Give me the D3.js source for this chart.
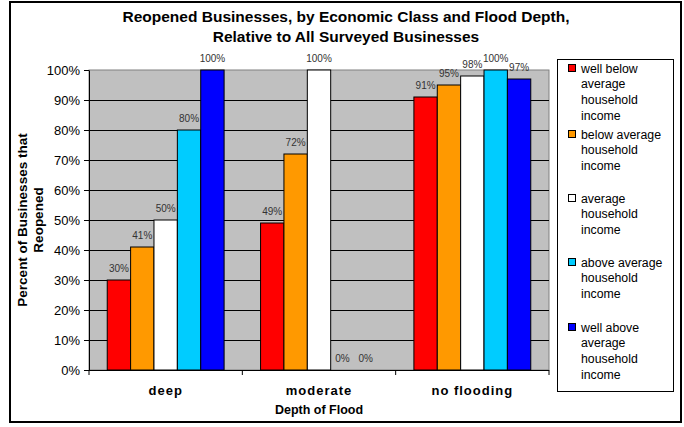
<!DOCTYPE html>
<html>
<head>
<meta charset="utf-8">
<script src="https://cdn.jsdelivr.net/npm/d3@7"></script>
<style>
  body { margin: 0; background: #fff; }
  text { font-family: "Liberation Sans", Arial, sans-serif; }
</style>
</head>
<body>
<svg id="chart"></svg>
<script>
// data
var depths = ["deep", "moderate", "no flooding"];
var classes = ["well below average household income", "below average household income",
               "average household income", "above average household income",
               "well above average household income"];
var legendLines = [["well below", "average", "household", "income"],
                   ["below average", "household", "income"],
                   ["average", "household", "income"],
                   ["above average", "household", "income"],
                   ["well above", "average", "household", "income"]];
var colors = ["#ff0000", "#ff9900", "#ffffff", "#00ccff", "#0000ff"];
var wellBelow  = [0.30, 0.49, 0.91];
var below      = [0.41, 0.72, 0.95];
var average    = [0.50, 1.00, 0.98];
var above      = [0.80, 0.00, 1.00];
var wellAbove  = [1.00, 0.00, 0.97];
var yTicks = [0, 0.1, 0.2, 0.3, 0.4, 0.5, 0.6, 0.7, 0.8, 0.9, 1.0];

var series = [wellBelow, below, average, above, wellAbove];

function setGraph(){
    var w = 684, h = 427;
    var svg = d3.select("#chart").attr("width", w).attr("height", h);

    // outer frame
    svg.append("rect")
        .attr("x", 10).attr("y", 2).attr("width", 671).attr("height", 420)
        .attr("fill", "#fff").attr("stroke", "#000").attr("stroke-width", 2);

    var left = 89, right = 549, top = 70, bottom = 370;

    var x0 = d3.scaleBand().domain(depths).range([left, right]);
    var x1 = d3.scaleBand().domain(d3.range(classes.length))
        .range([0, x0.bandwidth()]).paddingOuter(0.78).paddingInner(0);
    var y = d3.scaleLinear().domain([0, 1]).range([bottom, top]);

    // plot area
    svg.append("rect")
        .attr("x", left).attr("y", top).attr("width", right - left).attr("height", bottom - top)
        .attr("fill", "#c0c0c0").attr("stroke", "#808080").attr("stroke-width", 1);

    svg.append("g").selectAll("line")
        .data(yTicks.slice(1, -1))
        .join("line")
        .attr("x1", left).attr("x2", right)
        .attr("y1", function(d){ return Math.round(y(d)) + 0.5; })
        .attr("y2", function(d){ return Math.round(y(d)) + 0.5; })
        .attr("stroke", "#000").attr("stroke-width", 1);

    // bars
    var groups = svg.append("g").selectAll("g")
        .data(depths)
        .join("g")
        .attr("transform", function(d){ return "translate(" + x0(d) + ",0)"; });

    groups.selectAll("rect")
        .data(function(d, i){ return series.map(function(s, k){ return {k: k, v: s[i]}; }); })
        .join("rect")
        .filter(function(d){ return d.v > 0; })
        .attr("x", function(d){ return x1(d.k); })
        .attr("y", function(d){ return y(d.v); })
        .attr("width", x1.bandwidth())
        .attr("height", function(d){ return bottom - y(d.v); })
        .attr("fill", function(d){ return colors[d.k]; })
        .attr("stroke", "#000").attr("stroke-width", 1);

    groups.selectAll("text.lab")
        .data(function(d, i){ return series.map(function(s, k){ return {k: k, v: s[i]}; }); })
        .join("text")
        .attr("class", "lab")
        .attr("x", function(d){ return x1(d.k) + x1.bandwidth() / 2; })
        .attr("y", function(d){ return y(d.v) - 8; })
        .attr("text-anchor", "middle")
        .attr("font-size", 10)
        .attr("fill", "#333")
        .text(function(d){ return d3.format(".0%")(d.v); });

    // axes
    var axisY = d3.axisLeft(y).tickValues(yTicks).tickFormat(d3.format(".0%"))
        .tickSize(5).tickSizeOuter(0).tickPadding(4);
    var gy = svg.append("g").attr("transform", "translate(" + left + ",0)").call(axisY);
    gy.selectAll("text").attr("font-size", 13).attr("fill", "#000");
    gy.selectAll("line, path").attr("stroke", "#000");

    var gx = svg.append("g");
    gx.append("line")
        .attr("x1", left).attr("x2", right).attr("y1", bottom + 0.5).attr("y2", bottom + 0.5)
        .attr("stroke", "#000");
    gx.selectAll("line.tk")
        .data(depths.map(function(d){ return x0(d); }).concat([right]))
        .join("line")
        .attr("class", "tk")
        .attr("x1", function(d){ return d; }).attr("x2", function(d){ return d; })
        .attr("y1", bottom).attr("y2", bottom + 5)
        .attr("stroke", "#000");
    gx.selectAll("text")
        .data(depths)
        .join("text")
        .attr("x", function(d){ return x0(d) + x0.bandwidth() / 2; })
        .attr("y", 395)
        .attr("text-anchor", "middle")
        .attr("font-size", 13).attr("font-weight", "bold")
        .attr("letter-spacing", 1)
        .text(function(d){ return d; });

    // titles
    svg.append("text")
        .attr("x", 346).attr("y", 22)
        .attr("text-anchor", "middle").attr("font-size", 15.5).attr("font-weight", "bold")
        .text("Reopened Businesses, by Economic Class and Flood Depth,");
    svg.append("text")
        .attr("x", 346).attr("y", 42)
        .attr("text-anchor", "middle").attr("font-size", 15.5).attr("font-weight", "bold")
        .text("Relative to All Surveyed Businesses");

    svg.append("text")
        .attr("x", (left + right) / 2).attr("y", 414)
        .attr("text-anchor", "middle").attr("font-size", 12.5).attr("font-weight", "bold")
        .text("Depth of Flood");

    svg.append("text")
        .attr("text-anchor", "middle")
        .attr("transform", "translate(27," + (top + bottom) / 2 + ") rotate(-90)")
        .attr("font-size", 13.5).attr("font-weight", "bold")
        .text("Percent of Businesses that");
    svg.append("text")
        .attr("text-anchor", "middle")
        .attr("transform", "translate(43," + (top + bottom) / 2 + ") rotate(-90)")
        .attr("font-size", 13.5).attr("font-weight", "bold")
        .text("Reopened");

    // legend
    var lg = svg.append("g");
    lg.append("rect")
        .attr("x", 557.5).attr("y", 59.5).attr("width", 116).attr("height", 332)
        .attr("fill", "#fff").attr("stroke", "#000");
    var itemY = [68, 134, 198, 262, 327];
    var items = lg.selectAll("g.item")
        .data(classes)
        .join("g")
        .attr("class", "item")
        .attr("transform", function(d, i){ return "translate(568," + itemY[i] + ")"; });
    items.append("rect")
        .attr("x", 0.5).attr("y", -3.5).attr("width", 7).attr("height", 7)
        .attr("fill", function(d, i){ return colors[i]; })
        .attr("stroke", "#000");
    items.each(function(d, i){
        d3.select(this).selectAll("text")
            .data(legendLines[i])
            .join("text")
            .attr("x", 13)
            .attr("y", function(t, j){ return j * 15.8 + 4.5; })
            .attr("font-size", 12.3)
            .text(function(t){ return t; });
    });
}

setGraph();
</script>
</body>
</html>
